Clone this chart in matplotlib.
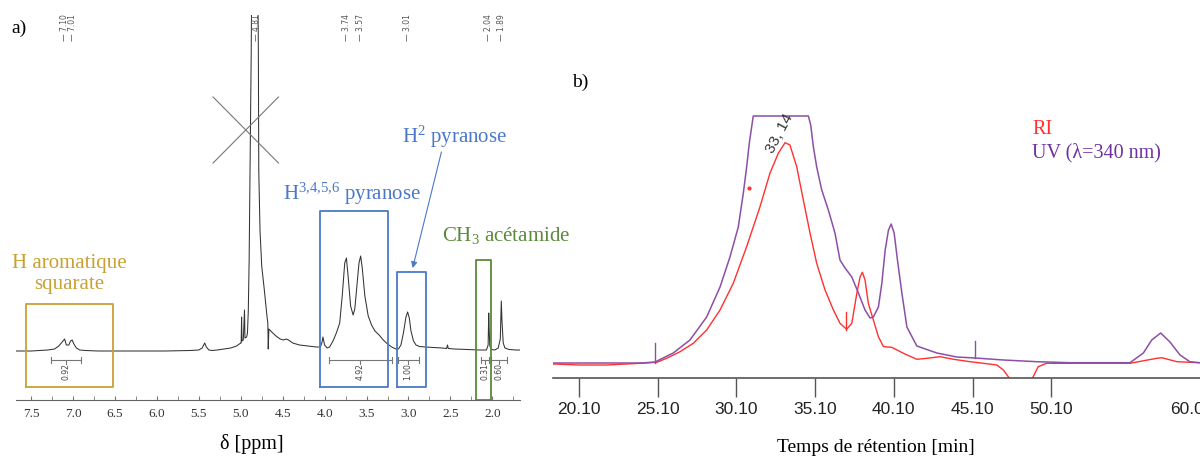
import matplotlib
matplotlib.use("Agg")
import matplotlib.pyplot as plt
import numpy as np
from matplotlib.ticker import MultipleLocator, FormatStrFormatter
from matplotlib.transforms import blended_transform_factory, ScaledTranslation

# ---- data -----------------------------------------------------------------
# 1H NMR spectrum (ppm, intensity above baseline)
nmr_points = [
    (7.68, 0), (7.50, 0), (7.40, 0.5), (7.30, 1), (7.22, 2), (7.17, 5),
    (7.13, 9), (7.10, 12), (7.08, 6), (7.05, 6), (7.03, 10), (7.01, 11),
    (6.99, 7), (6.96, 3), (6.92, 1), (6.85, 0.5), (6.70, 0), (6.50, 0),
    (6.20, 0), (5.90, 0), (5.60, 0.5), (5.50, 1), (5.46, 3), (5.43, 8),
    (5.41, 4), (5.38, 1), (5.34, 0.5), (5.28, 1), (5.20, 2), (5.12, 3),
    (5.05, 5), (5.00, 8), (4.995, 8), (4.99, 34), (4.985, 10), (4.97, 11),
    (4.955, 41), (4.95, 13), (4.93, 14), (4.92, 18), (4.91, 40), (4.90, 90),
    (4.895, 130), (4.885, 200), (4.875, 300), (4.865, 420), (4.80, 420),
    (4.79, 300), (4.785, 180), (4.77, 120), (4.75, 85), (4.72, 62),
    (4.70, 45), (4.685, 33), (4.677, 28), (4.672, 2), (4.665, 22),
    (4.63, 19), (4.58, 15), (4.53, 12), (4.49, 11), (4.46, 12), (4.43, 11),
    (4.38, 8), (4.30, 6), (4.20, 5), (4.10, 4), (4.05, 4), (4.03, 9),
    (4.02, 14), (4.00, 6), (3.97, 3), (3.94, 4), (3.90, 10), (3.86, 18),
    (3.82, 28), (3.79, 55), (3.76, 88), (3.74, 93), (3.72, 75), (3.69, 45),
    (3.66, 36), (3.64, 42), (3.61, 70), (3.59, 88), (3.57, 95), (3.55, 82),
    (3.52, 55), (3.48, 35), (3.44, 26), (3.40, 20), (3.35, 16), (3.30, 11),
    (3.25, 7), (3.20, 4), (3.15, 2), (3.12, 2), (3.09, 6), (3.06, 18),
    (3.03, 34), (3.01, 39), (2.99, 33), (2.97, 20), (2.94, 10), (2.91, 6),
    (2.87, 4.5), (2.80, 4), (2.70, 3.5), (2.60, 3), (2.545, 2.5),
    (2.535, 6), (2.525, 2.5), (2.45, 2), (2.30, 1.5), (2.15, 1), (2.07, 1),
    (2.05, 6), (2.043, 38), (2.037, 20), (2.03, 5), (2.01, 1.5), (1.97, 1),
    (1.93, 3), (1.905, 12), (1.893, 50), (1.885, 30), (1.87, 8), (1.85, 3),
    (1.80, 1.5), (1.72, 1), (1.67, 1),
]
peak_labels = [7.10, 7.01, 4.81, 3.74, 3.57, 3.01, 2.04, 1.89]
integral_ranges = [(7.26, 6.90), (3.95, 3.20), (3.13, 2.88), (2.14, 2.04), (2.01, 1.83)]
integral_values = ["0.92", "4.92", "1.00", "0.31", "0.60"]

# SEC chromatogram (retention time in min, detector signal)
uv_time = [18.45, 24.1, 24.93, 26.09, 27.15, 28.21, 29.06, 29.69, 30.22, 30.54,
           30.75, 30.92, 31.17, 34.67, 34.82, 34.99, 35.20, 35.52, 35.94, 36.36,
           36.68, 37.0, 37.43, 37.85, 38.27, 38.59, 38.8, 39.12, 39.34, 39.55,
           39.76, 39.93, 40.12, 40.33, 40.61, 40.93, 41.56, 42.83, 44.1, 45.26,
           47.06, 49.18, 51.29, 55.1, 55.95, 56.48, 57.05, 57.64, 58.28, 58.9, 59.5]
uv_signal = [0, 0, 1, 10, 23, 46, 76, 106, 136, 170,
             196, 220, 247, 247, 238, 216, 196, 173, 153, 130,
             103, 95, 86, 70, 53, 45, 46, 56, 80, 113,
             133, 139, 130, 103, 70, 36, 17, 10, 6, 5,
             3, 1.3, 0.3, 0.3, 10, 23, 30, 21, 8, 1.3, 0.3]
ri_time = [18.45, 20.16, 21.85, 23.98, 25.04, 25.67, 26.52, 27.36, 28.21, 29.06,
           29.9, 30.75, 31.6, 32.23, 32.76, 33.19, 33.5, 33.93, 34.35, 34.78,
           35.2, 35.73, 36.26, 36.68, 37.1, 37.43, 37.75, 37.96, 38.1, 38.27,
           38.48, 38.8, 39.12, 39.44, 39.97, 40.71, 41.56, 42.19, 43.04, 43.89,
           44.94, 45.79, 46.64, 47.06, 47.44, 47.7, 48.6, 48.9, 49.27, 49.8,
           51.29, 55.1, 56.8, 57.12, 58.08, 59.5]
ri_signal = [-1, -2, -2, -0.3, 0.7, 4.7, 11.3, 19.7, 33, 53,
             79.7, 116.3, 156.3, 189.7, 209.7, 220.3, 218, 196.3, 163, 129.7,
             99.7, 73, 53, 39.7, 33.7, 39.7, 69.7, 86.3, 90.7, 83,
             59.7, 43, 26.3, 16.3, 15.7, 9.7, 3.7, 4.7, 6.3, 3.7,
             1.3, -0.3, -2, -7, -15.3, -32, -32, -15.3, -3.7, -0.3,
             -0.3, -0.3, 4.7, 5.3, 1.3, 0.3]
uv_markers = [(24.93, 0, 20), (45.26, 5, 22)]
ri_markers = [(37.06, 33, 51)]
ri_dot = (30.9, 175)
peak_rt_label = "33, 14"
rt_ticks = [20.10, 25.10, 30.10, 35.10, 40.10, 45.10, 50.10, 60.00]
rt_ticklabels = ["20.10", "25.10", "30.10", "35.10", "40.10", "45.10", "50.10", "60.00"]

# ---- style ----------------------------------------------------------------
W, H = 1200, 459


def fx(x):
    return x / W


def fy(y):
    return 1 - y / H


plt.rcParams["font.family"] = ["Liberation Serif", "DejaVu Serif"]
plt.rcParams["mathtext.fontset"] = "custom"
plt.rcParams["mathtext.rm"] = "Liberation Serif"
plt.rcParams["mathtext.it"] = "Liberation Serif:italic"

gold = "#C9A032"
blue = "#4A78C8"
green = "#5A8A3A"
purple_txt = "#7030A0"
purple = "#8C4FA6"
red = "#FF3030"

fig = plt.figure(figsize=(12, 4.59), dpi=100)

# ---- a) NMR ---------------------------------------------------------------
ax1 = fig.add_axes([fx(16), fy(400), (520 - 16) / W, (400 - 15) / H])
ax1.patch.set_alpha(0)
ppm = np.array([p[0] for p in nmr_points])
inten = np.array([p[1] for p in nmr_points])
ax1.plot(ppm, inten, color="#333333", lw=0.75)
ax1.set_xlim(7.68, 1.67)
ax1.set_ylim(-49, 336)
for s in ["top", "left", "right"]:
    ax1.spines[s].set_visible(False)
ax1.spines["bottom"].set_color("#666666")
ax1.set_yticks([])
ax1.xaxis.set_major_locator(MultipleLocator(0.5))
ax1.xaxis.set_minor_locator(MultipleLocator(0.25))
ax1.xaxis.set_major_formatter(FormatStrFormatter("%.1f"))
ax1.tick_params(axis="x", which="both", direction="in", length=3, color="#777777",
                labelsize=9.5, labelcolor="#333333", pad=6)

# peak picking labels on top
top = blended_transform_factory(ax1.transData, fig.transFigure)
for p in peak_labels:
    ax1.text(p, fy(41), "\u2014 %.2f" % p, rotation=90, ha="center", va="bottom",
             fontsize=5.5, family="DejaVu Sans", color="#555555", transform=top)

# integrals
for (a, b), v in zip(integral_ranges, integral_values):
    ax1.plot([a, b], [-9, -9], color="#777777", lw=0.8)
    ax1.plot([a, a], [-12, -6], color="#777777", lw=0.8)
    ax1.plot([b, b], [-12, -6], color="#777777", lw=0.8)
    c = (a + b) / 2
    ax1.plot([c, c], [-9, -13], color="#777777", lw=0.8)
    ax1.text(c, -21, v, rotation=90, ha="center", va="center", fontsize=5.5,
             family="DejaVu Sans", color="#444444")

# crossed-out solvent peak
ax1.plot([5.33, 4.55], [254, 188], color="#777777", lw=0.8)
ax1.plot([4.55, 5.33], [254, 188], color="#777777", lw=0.8)

# region boxes
boxes = [((7.56, 6.52), (-36, 47), gold), ((4.06, 3.25), (-36, 140), blue),
         ((3.14, 2.79), (-36, 79), blue), ((2.19, 2.01), (-49, 91), green)]
for (x0, x1), (y0, y1), c in boxes:
    ax1.plot([x0, x1, x1, x0, x0], [y0, y0, y1, y1, y0], color=c, lw=1.3,
             clip_on=False)

ax1.text(7.05, 77, "H aromatique\nsquarate", color=gold, fontsize=15,
         ha="center", va="center", linespacing=1.15)
ax1.text(3.68, 157, "H$^{3{,}4{,}5{,}6}$ pyranose", color=blue, fontsize=15,
         ha="center", va="center")
ax1.text(2.45, 214, "H$^{2}$ pyranose", color=blue, fontsize=15,
         ha="center", va="center")
ax1.text(2.595, 116, "CH$_{3}$ acétamide", color=green, fontsize=15,
         ha="left", va="center")
ax1.annotate("", xy=(2.95, 83), xytext=(2.607, 199),
             arrowprops=dict(arrowstyle="-|>", color=blue, lw=0.8,
                             mutation_scale=9, shrinkA=0, shrinkB=0))

fig.text(fx(11), fy(28), "a)", fontsize=14, va="center", ha="left")
fig.text(fx(252), fy(444), "δ [ppm]", fontsize=14.5, ha="center", va="center")

# ---- b) SEC ---------------------------------------------------------------
ax2 = fig.add_axes([fx(553), fy(378), (1215 - 553) / W, (378 - 100) / H])
ax2.patch.set_alpha(0)
ax2.plot(ri_time, ri_signal, color=red, lw=1.0)
ax2.plot(uv_time, uv_signal, color=purple, lw=1.1)
for t, y0, y1 in uv_markers:
    ax2.plot([t, t], [y0, y1], color=purple, lw=1.0)
for t, y0, y1 in ri_markers:
    ax2.plot([t, t], [y0, y1], color=red, lw=1.0)
ax2.plot([ri_dot[0]], [ri_dot[1]], "o", color=red, ms=2)
ax2.text(32.87, 230, peak_rt_label, rotation=62, ha="center", va="center",
         fontsize=11, family="Liberation Sans", color="#333333")
ax2.set_xlim(18.45, 60.5)
ax2.set_ylim(-15, 263)
for s in ["top", "left", "right"]:
    ax2.spines[s].set_visible(False)
ax2.spines["bottom"].set_color("#555555")
ax2.spines["bottom"].set_linewidth(1.2)
ax2.set_yticks([])
ax2.set_xticks(rt_ticks)
ax2.set_xticklabels(rt_ticklabels, family="Liberation Sans")
ax2.tick_params(axis="x", direction="out", length=14, width=1, color="#555555",
                labelsize=12.5, labelcolor="#222222", pad=3)
# last label sits a bit to the left of its tick in the original
last = ax2.get_xticklabels()[-1]
last.set_transform(last.get_transform() + ScaledTranslation(-0.15, 0, fig.dpi_scale_trans))

fig.text(fx(572), fy(82), "b)", fontsize=14, va="center", ha="left")
fig.text(fx(1032), fy(130), "RI", color=red, fontsize=14.5, va="center", ha="left")
fig.text(fx(1032), fy(153), "UV (λ=340 nm)", color=purple_txt, fontsize=14.5,
         va="center", ha="left")
fig.text(fx(876), fy(448), "Temps de rétention [min]", fontsize=14,
         ha="center", va="center")

fig.savefig("out.png", dpi=100)
